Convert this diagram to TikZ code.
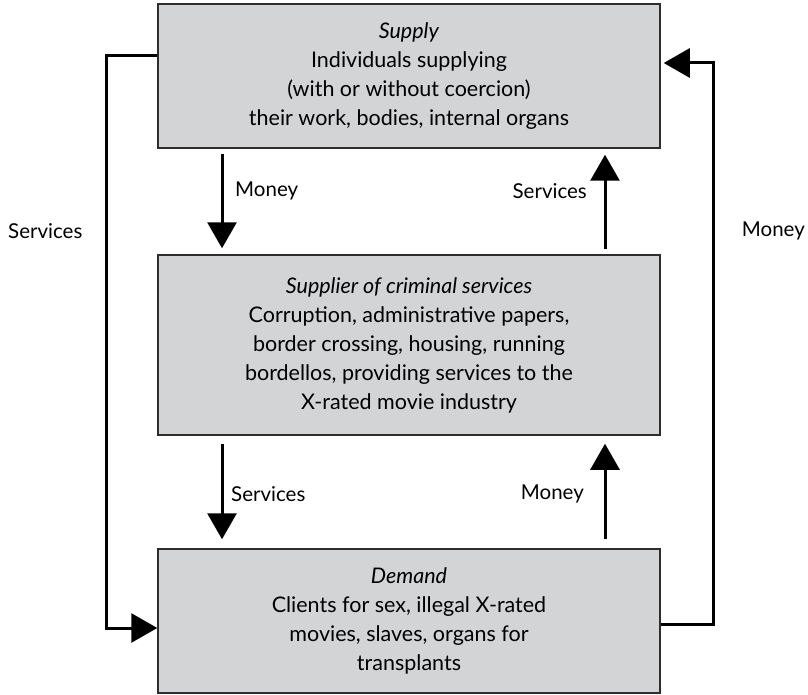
\documentclass[tikz,border=0pt]{standalone}
\usepackage{fontspec}
\setmainfont{Lato}
\usetikzlibrary{arrows.meta}
\definecolor{boxfill}{RGB}{211,212,214}
\definecolor{boxline}{RGB}{45,45,45}
\begin{document}
\begin{tikzpicture}[x=1pt,y=-1pt,
  box/.style={draw=boxline,line width=1.5pt,fill=boxfill,minimum width=502pt,
    align=center,inner sep=0pt,font=\fontsize{21.5}{29}\selectfont},
  arr/.style={line width=3pt,-{Triangle[width=29pt,length=26pt]}},
  lbl/.style={font=\fontsize{20.5}{24}\selectfont,inner sep=0pt}]
\useasboundingbox (0,0) rectangle (808,695);
\node[box,minimum height=144pt] (top) at (409,76)
  {\textit{Supply}\\Individuals supplying\\(with or without coercion)\\their work, bodies, internal organs};
\node[box,minimum height=180pt] (mid) at (409,345)
  {\textit{Supplier of criminal services}\\Corruption, administrative papers,\\border crossing, housing, running\\bordellos, providing services to the\\X-rated movie industry};
\node[box,minimum height=144pt] (bot) at (409,621)
  {\textit{Demand}\\Clients for sex, illegal X-rated\\movies, slaves, organs for\\transplants};
\coordinate (xl) at (222,0);
\coordinate (xr) at (605,0);
\draw[arr,shorten <=5pt,shorten >=6pt] (top.south -| xl) -- (mid.north -| xl);
\draw[arr,shorten <=5pt,shorten >=6pt] (mid.north -| xr) -- (top.south -| xr);
\draw[arr,shorten <=8pt,shorten >=9pt] (mid.south -| xl) -- (bot.north -| xl);
\draw[arr,shorten <=9pt,shorten >=8pt] (bot.north -| xr) -- (mid.south -| xr);
\coordinate (ls) at (106,56);
\coordinate (lb) at (106,628);
\draw[arr] (top.west |- ls) -- (ls) -- (lb) -- (bot.west |- lb);
\coordinate (rb) at (713,624);
\coordinate (rt) at (713,63);
\draw[arr,shorten >=3pt] (bot.east |- rb) -- (rb) -- (rt) -- (top.east |- rt);
\node[lbl,anchor=west] (m1) at (235,191) {Money};
\node[lbl,anchor=east] (s1) at (587,191) {Services};
\node[lbl,anchor=west] (s2) at (231,494) {Services};
\node[lbl,anchor=east] (m2) at (584,494) {Money};
\node[lbl,anchor=west] (s3) at (8,231) {Services};
\node[lbl,anchor=east] (m3) at (805,231) {Money};
\end{tikzpicture}
\end{document}
